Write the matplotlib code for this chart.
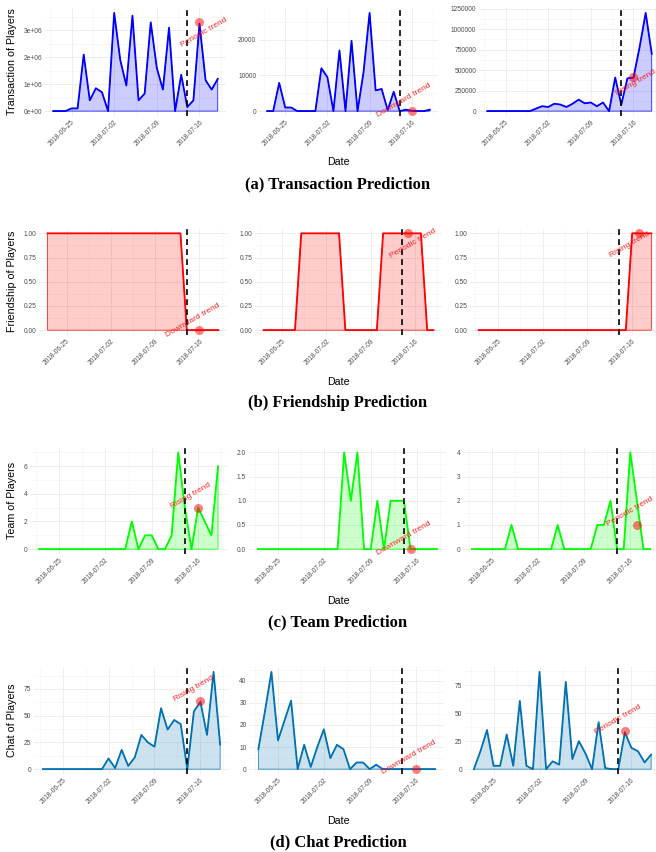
import numpy as np
import pandas as pd
import matplotlib
matplotlib.use('Agg')
import matplotlib.pyplot as plt
import matplotlib.dates as mdates
from matplotlib.ticker import FixedLocator, FuncFormatter

plt.rcParams['font.family'] = ['Liberation Sans', 'DejaVu Sans']

# 28 daily observations
dates = pd.date_range('2018-06-22', '2018-07-19', freq='D')
split_date = pd.Timestamp('2018-07-14')
tick_dates = ['2018-06-25', '2018-07-02', '2018-07-09', '2018-07-16']

trans_1 = [0, 0, 0, 0.1e6, 0.1e6, 2.1e6, 0.4e6, 0.85e6, 0.7e6, 0, 3.65e6, 1.9e6, 0.95e6, 3.55e6,
           0.4e6, 0.65e6, 3.3e6, 1.6e6, 0.8e6, 3.1e6, 0, 1.35e6, 0.15e6, 0.4e6, 3.25e6, 1.15e6, 0.8e6, 1.2e6]
trans_2 = [0, 0, 7900, 1000, 1000, 0, 0, 0, 0, 12000, 9500, 0, 17000, 0,
           19700, 0, 11000, 27500, 5800, 6200, 300, 5400, 0, 400, 100, 0, 0, 400]
trans_3 = [0, 0, 0, 0, 0, 0, 0, 0, 30000, 60000, 50000, 90000, 80000, 50000,
           90000, 140000, 95000, 105000, 60000, 105000, 0, 410000, 80000, 400000, 410000, 780000, 1200000, 700000]

friend_1 = [1, 1, 1, 1, 1, 1, 1, 1, 1, 1, 1, 1, 1, 1, 1, 1, 1, 1, 1, 1, 1, 1, 0, 0, 0, 0, 0, 0]
friend_2 = [0, 0, 0, 0, 0, 0, 1, 1, 1, 1, 1, 1, 1, 0, 0, 0, 0, 0, 0, 1, 1, 1, 1, 1, 1, 1, 0, 0]
friend_3 = [0, 0, 0, 0, 0, 0, 0, 0, 0, 0, 0, 0, 0, 0, 0, 0, 0, 0, 0, 0, 0, 0, 0, 0, 1, 1, 1, 1]

team_1 = [0, 0, 0, 0, 0, 0, 0, 0, 0, 0, 0, 0, 0, 0, 2, 0, 1, 1, 0, 0, 1, 7, 3, 0, 3, 2, 1, 6]
team_2 = [0, 0, 0, 0, 0, 0, 0, 0, 0, 0, 0, 0, 0, 2, 1, 2, 0, 0, 1, 0, 1, 1, 1, 0, 0, 0, 0, 0]
team_3 = [0, 0, 0, 0, 0, 0, 1, 0, 0, 0, 0, 0, 0, 1, 0, 0, 0, 0, 0, 1, 1, 2, 0, 0, 4, 2, 0, 0]

chat_1 = [0, 0, 0, 0, 0, 0, 0, 0, 0, 0, 10, 1, 18, 3, 11, 32, 25, 21, 57, 37, 46, 42, 0, 54, 63, 32, 91, 23]
chat_2 = [9, 26, 44, 13, 22, 31, 0, 11, 1, 10, 18, 5, 11, 9, 0, 3, 3, 0, 2, 0, 0, 0, 0, 0, 0, 0, 0, 0]
chat_3 = [0, 16, 35, 3, 3, 31, 3, 61, 3, 0, 87, 0, 7, 4, 78, 9, 25, 14, 0, 42, 1, 0, 0, 33, 19, 16, 6, 13]

# highlighted prediction points and their labels
point_dates = [['2018-07-16', '2018-07-16', '2018-07-16'],
               ['2018-07-16', '2018-07-15', '2018-07-17'],
               ['2018-07-16', '2018-07-15', '2018-07-17'],
               ['2018-07-16', '2018-07-16', '2018-07-15']]
point_vals = [[3.3e6, 0, 420000], [0, 1, 1], [3, 0, 1], [64, 0, 34]]
trend_labels = [['Periodic trend', 'Downward trend', 'Rising trend'],
                ['Downward trend', 'Periodic trend', 'Rising trend'],
                ['Rising trend', 'Downward trend', 'Periodic trend'],
                ['Rising trend', 'Downward trend', 'Periodic trend']]

rows = [[trans_1, trans_2, trans_3], [friend_1, friend_2, friend_3],
        [team_1, team_2, team_3], [chat_1, chat_2, chat_3]]
ylabels = ['Transaction of Players', 'Friendship of Players', 'Team of Players', 'Chat of Players']
captions = ['(a) Transaction Prediction', '(b) Friendship Prediction',
            '(c) Team Prediction', '(d) Chat Prediction']
colors = ['#0000FF', '#FF0000', '#00FF00', '#0072B2']

W, H = 656, 852
# axes boxes in pixels: left, top, right, bottom
boxes = [[(45, 8, 226, 116), (259, 8, 438, 116), (479, 8, 660, 116)],
         [(39, 228.5, 227, 335), (255, 228.5, 442, 335), (470, 228.5, 660, 335)],
         [(30, 447.5, 227, 554), (249, 447.5, 446, 554), (463, 447.5, 659, 554)],
         [(34, 667, 229, 774), (249.5, 667, 444, 774), (465, 667, 660, 774)]]
yticks = [[[0, 1e6, 2e6, 3e6], [0, 10000, 20000], [0, 250000, 500000, 750000, 1000000, 1250000]],
          [[0, 0.25, 0.5, 0.75, 1]] * 3,
          [[0, 2, 4, 6], [0, 0.5, 1, 1.5, 2], [0, 1, 2, 3, 4]],
          [[0, 25, 50, 75], [0, 10, 20, 30, 40], [0, 25, 50, 75]]]
yfmt = [['{:.0e}', '{:.0f}', '{:.0f}'], ['{:.2f}'] * 3, ['{:.0f}', '{:.1f}', '{:.0f}'], ['{:.0f}'] * 3]
# label offset from the point, pixels (right, down)
text_off = [[(4, 10), (-8, -11), (2, 6)],
            [(-7, -10), (5, 10), (-9, 11)],
            [(-7, -12), (-7, -11), (-7, -13)],
            [(-7, -12), (-7, -12), (-7, -12)]]
date_y = [162, 382, 601, 821]
cap_y = [184, 403, 622, 842]

fig = plt.figure(figsize=(W / 100, H / 100), dpi=100)

major_x = mdates.date2num(pd.to_datetime(tick_dates))
minor_x = np.concatenate([major_x - 3.5, [major_x[-1] + 3.5]])

for r in range(4):
    for c in range(3):
        l, t, rr, b = boxes[r][c]
        ax = fig.add_axes([l / W, 1 - b / H, (rr - l) / W, (b - t) / H])
        vals = np.array(rows[r][c], dtype=float)
        col = colors[r]
        ax.fill_between(dates, 0, vals, facecolor=col, alpha=0.2, edgecolor='none')
        ax.fill_between(dates, 0, vals, facecolor='none', edgecolor=col, linewidth=0.5)
        ax.plot(dates, vals, color=col, lw=1.3, zorder=3)
        ax.axvline(split_date, color='black', ls=(0, (3.5, 2.5)), lw=1.2, zorder=4)
        pdt = pd.Timestamp(point_dates[r][c])
        pv = point_vals[r][c]
        ax.plot([pdt], [pv], 'o', color='red', alpha=0.5, markersize=6.5, markeredgewidth=0, zorder=5)
        dx, dy = text_off[r][c]
        ax.annotate(trend_labels[r][c], (pdt, pv), xytext=(dx * 0.72, -dy * 0.72),
                    textcoords='offset points', ha='center', va='center', rotation=30,
                    color='red', alpha=0.85, fontsize=6, zorder=6, annotation_clip=False)

        ax.margins(x=0.05, y=0.05)
        yt = yticks[r][c]
        step = yt[1] - yt[0]
        ax.yaxis.set_major_locator(FixedLocator(yt))
        ax.yaxis.set_minor_locator(FixedLocator(np.append(np.array(yt) + step / 2, yt[0] - step / 2)))
        fmt = yfmt[r][c]
        ax.yaxis.set_major_formatter(FuncFormatter(lambda v, p, fmt=fmt: fmt.format(v)))
        ax.xaxis.set_major_locator(FixedLocator(major_x))
        ax.xaxis.set_minor_locator(FixedLocator(minor_x))
        ax.set_xticklabels(tick_dates, rotation=45, ha='right', va='top', rotation_mode='anchor')
        ax.grid(which='major', color='#EBEBEB', lw=0.6)
        ax.grid(which='minor', color='#F4F4F4', lw=0.4)
        ax.set_axisbelow(True)
        for s in ax.spines.values():
            s.set_visible(False)
        ax.tick_params(which='both', length=0, labelsize=4.8, labelcolor='#4D4D4D', pad=2)

    mid = (boxes[r][0][1] + boxes[r][0][3]) / 2
    fig.text(12 / W, 1 - mid / H, ylabels[r], rotation=90, ha='center', va='center', fontsize=7.7)
    fig.text(338 / W, 1 - date_y[r] / H, 'Date', ha='center', va='center', fontsize=7.7)
    fig.text(338 / W, 1 - cap_y[r] / H, captions[r], ha='center', va='center', fontsize=12,
             fontweight='bold', family=['Liberation Serif', 'DejaVu Serif'])

fig.savefig('out.png', dpi=100)
